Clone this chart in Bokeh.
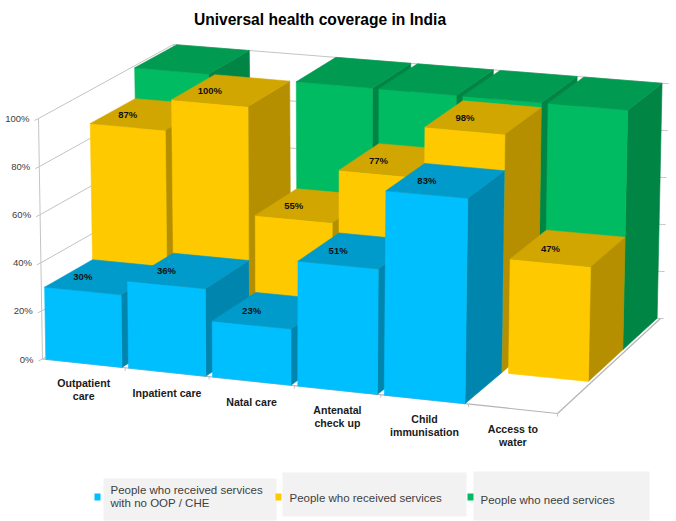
import numpy as np
from bokeh.plotting import figure
from bokeh.models import Range1d
from bokeh.core.properties import value
from bokeh.embed import file_html
from bokeh.resources import INLINE

title = "Universal health coverage in India"
categories = ["Outpatient\ncare", "Inpatient care", "Natal care", "Antenatal\ncheck up", "Child\nimmunisation", "Access to\nwater"]
no_oop = [30, 36, 23, 51, 83, None]
received = [87, 100, 55, 77, 98, 47]
need = [100, None, 100, 100, 100, 100]
y_ticks = [0, 20, 40, 60, 80, 100]
legend_labels = ["People who received services\nwith no OOP / CHE", "People who received services", "People who need services"]

FONT = value("Liberation Sans")
series = [
    (need, "#00BB62", "#009A50", "#008545"),
    (received, "#FFC900", "#D2A600", "#B58F00"),
    (no_oop, "#00BFFF", "#009ACB", "#0085AF"),
]
rows = [2, 1, 0]

FLOOR = np.array([(42, 358.5), (557, 413), (660, 318), (177, 280)], float)
CEIL = np.array([(38, 118), (562, 164), (665, 83), (173, 44)], float)


def apply(C, u, d):
    uu = u - 0.044 * u * (1 - u)
    dd = d + 0.1 * (1 - u) * d * (1 - d)
    front = C[0] * (1 - uu) + C[1] * uu
    back = C[3] * (1 - uu) + C[2] * uu
    return front * (1 - dd) + back * dd


def proj(u, d, h):
    return tuple((1 - h) * apply(FLOOR, u, d) + h * apply(CEIL, u, d))


p = figure(width=676, height=521, x_range=Range1d(0, 676), y_range=Range1d(521, 0),
           output_backend="svg", toolbar_location=None, min_border=0,
           background_fill_color="white", border_fill_color="white", outline_line_color=None)
p.xaxis.visible = False
p.yaxis.visible = False
p.grid.visible = False


def line(a, b, color="#C4C4C4", w=1.0):
    p.line([a[0], b[0]], [a[1], b[1]], line_color=color, line_width=w)


def poly(points, color):
    p.patch([q[0] for q in points], [q[1] for q in points], fill_color=color,
            line_color=color, line_width=0.6)


def label(x, y, s, size, color="#000000", style="normal", align="center"):
    p.text([x], [y], text=[s], text_font=FONT, text_font_size=size, text_color=color,
           text_font_style=style, text_align=align, text_baseline="middle")


# walls, grid and ticks
for t in y_ticks:
    h = t / 100
    a, b, c = proj(0, 0, h), proj(0, 1, h), proj(1, 1, h)
    line(a, b)
    line(b, c)
    line((a[0] - 4, a[1] + 2), a)
    line(c, (c[0] + 3, c[1]))
    label(a[0] - 9, a[1], f"{t}%", "9.5px", "#404040", align="right")
line(proj(0, 0, 0), proj(0, 0, 1))
line(proj(0, 1, 0), proj(0, 1, 1))
line(proj(0, 0, 0), proj(1, 0, 0), "#B4B4B4", 1.2)
line(proj(1, 0, 0), proj(1, 1, 0), "#B4B4B4", 1.2)
n = len(categories)
for i in range(1, n + 1):
    q = proj(i / n, 0, 0)
    line(q, (q[0], q[1] + 3))

# bars, back row first, each row from left to right
labels = []
MARGIN = 0.04
for (vals, front, top, side), r in zip(series, rows):
    d0, d1 = r / 3, (r + 1) / 3
    for i, v in enumerate(vals):
        if v is None:
            continue
        u0, u1 = (i + MARGIN) / n, (i + 1 - MARGIN) / n
        h = v / 100
        poly([proj(u1, d0, 0), proj(u1, d1, 0), proj(u1, d1, h), proj(u1, d0, h)], side)
        poly([proj(u0, d0, 0), proj(u1, d0, 0), proj(u1, d0, h), proj(u0, d0, h)], front)
        poly([proj(u0, d0, h), proj(u1, d0, h), proj(u1, d1, h), proj(u0, d1, h)], top)
        if vals is not need:
            fx = (proj(u0, d0, h)[0] + proj(u1, d0, h)[0]) / 2
            cy = proj((u0 + u1) / 2, (d0 + d1) / 2, h)[1]
            labels.append((fx, cy, f"{v}%"))
for x, y, s in labels:
    label(x, y, s, "9.5px", "#111111", "bold")

# category labels
for i, c in enumerate(categories):
    e = proj((i + 0.5) / n, 0, 0)
    parts = c.split("\n")
    if len(parts) == 1:
        label(e[0], e[1] + 21, parts[0], "10.6px", "#1A1A1A", "bold")
    else:
        label(e[0], e[1] + 20, parts[0], "10.6px", "#1A1A1A", "bold")
        label(e[0], e[1] + 33, parts[1], "10.6px", "#1A1A1A", "bold")

# title
label(319.5, 19, title, "15.6px", "#000000", "bold")

# legend
boxes = [(103, 276, 478, 520), (282, 466, 472, 516), (473, 649, 471, 520)]
marks = [(94, 100, 493, 500), (275, 281, 493, 500), (467, 473, 493, 500)]
colors = [series[2][1], series[1][1], series[0][1]]
text_pos = [(110, 489), (289, 497), (480, 499)]
for (x0, x1, y0, y1) in boxes:
    p.quad(left=x0, right=x1, top=y0, bottom=y1, fill_color="#F2F2F2", line_color=None)
for (x0, x1, y0, y1), col in zip(marks, colors):
    p.quad(left=x0, right=x1, top=y0, bottom=y1, fill_color=col, line_color=None)
for s, (x, y) in zip(legend_labels, text_pos):
    for j, part in enumerate(s.split("\n")):
        label(x, y + 13.5 * j, part, "11.5px", "#404040", align="left")

open("out.html", "w").write(file_html(p, INLINE))
